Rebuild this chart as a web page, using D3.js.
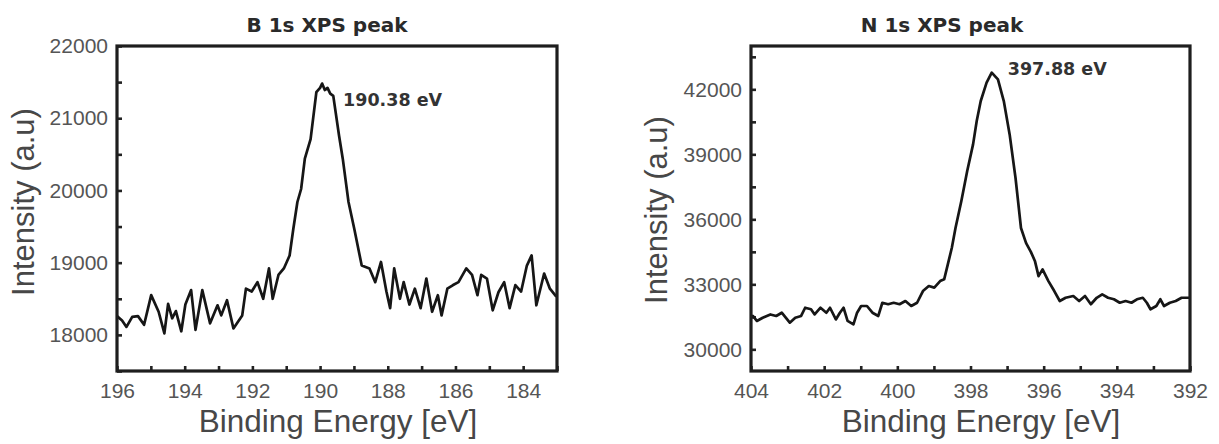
<!DOCTYPE html>
<html>
<head>
<meta charset="utf-8">
<script src="https://cdn.jsdelivr.net/npm/d3@7"></script>
<style>
  html, body { margin: 0; padding: 0; background: #fff; }
  svg { display: block; }
</style>
</head>
<body>
<svg id="chart" width="1219" height="444"></svg>
<script>
// ---- B 1s spectrum: binding energy (eV) and intensity (a.u.) ----
const bEnergy = [196.00,195.85,195.72,195.55,195.38,195.20,194.99,194.77,194.60,194.49,194.37,194.26,194.10,193.98,193.81,193.68,193.48,193.25,193.03,192.92,192.75,192.56,192.30,192.19,192.02,191.85,191.68,191.51,191.40,191.23,191.07,190.90,190.79,190.67,190.56,190.45,190.28,190.11,190.00,189.94,189.86,189.78,189.70,189.61,189.44,189.33,189.16,188.99,188.77,188.54,188.37,188.20,188.04,187.93,187.81,187.64,187.53,187.36,187.20,187.03,186.86,186.69,186.52,186.41,186.24,186.07,185.91,185.68,185.51,185.35,185.24,185.07,184.90,184.73,184.56,184.40,184.23,184.06,183.89,183.75,183.61,183.38,183.21,183.02];
const bIntensity = [18260,18200,18110,18250,18260,18140,18550,18320,18020,18430,18230,18330,18050,18420,18620,18070,18620,18160,18410,18270,18480,18090,18270,18640,18600,18730,18500,18920,18500,18830,18920,19100,19470,19840,20020,20440,20710,21360,21420,21480,21390,21420,21340,21310,20760,20440,19840,19470,18960,18920,18730,19010,18600,18370,18920,18500,18730,18420,18640,18370,18780,18320,18550,18270,18640,18690,18730,18920,18830,18550,18830,18780,18340,18590,18730,18370,18690,18600,18960,19100,18410,18850,18640,18530];

// ---- N 1s spectrum ----
const nEnergy = [404.00,403.95,403.84,403.68,403.47,403.31,403.16,402.94,402.79,402.63,402.52,402.36,402.26,402.10,401.94,401.84,401.68,401.57,401.47,401.36,401.20,401.10,400.99,400.83,400.68,400.52,400.41,400.25,400.10,399.94,399.78,399.62,399.46,399.30,399.14,398.99,398.83,398.72,398.62,398.51,398.41,398.25,398.09,397.93,397.83,397.72,397.56,397.42,397.25,397.09,396.93,396.77,396.62,396.48,396.35,396.24,396.14,396.03,395.87,395.71,395.56,395.40,395.19,395.03,394.87,394.71,394.55,394.40,394.24,394.08,393.92,393.76,393.60,393.45,393.29,393.18,393.08,392.92,392.81,392.71,392.55,392.39,392.23,392.02];
const nIntensity = [31450,31540,31310,31460,31610,31540,31690,31230,31460,31540,31920,31850,31610,31920,31690,31920,31380,31690,31920,31310,31150,31690,32000,32000,31690,31540,32150,32080,32150,32080,32230,32000,32150,32690,32920,32850,33150,33230,33920,34690,35600,36850,38230,39460,40540,41460,42310,42770,42460,41460,39920,37920,35600,34900,34500,34080,33380,33690,33150,32690,32230,32380,32460,32230,32460,32080,32380,32540,32380,32310,32150,32230,32150,32310,32380,32150,31850,32000,32310,32000,32150,32230,32380,32380];

// ---- axis ranges, tick labels and annotations ----
const bXDomain = [196, 183];
const bYDomain = [17500, 22000];
const bXTicks = [196, 194, 192, 190, 188, 186, 184];
const bXMinor = [195, 193, 191, 189, 187, 185, 183];
const bYTicks = [18000, 19000, 20000, 21000, 22000];
const bYMinor = [17500, 18500, 19500, 20500, 21500];

const nXDomain = [404, 392];
const nYDomain = [29000, 44000];
const nXTicks = [404, 402, 400, 398, 396, 394, 392];
const nXMinor = [403, 401, 399, 397, 395, 393];
const nYTicks = [30000, 33000, 36000, 39000, 42000];
const nYMinor = [31500, 34500, 37500, 40500, 43500];

const titles = ["B 1s XPS peak", "N 1s XPS peak"];
const peakLabels = ["190.38 eV", "397.88 eV"];
const xTitle = "Binding Energy [eV]";
const yTitle = "Intensity (a.u)";

const svg = d3.select("#chart");
svg.append("rect").attr("width", 1219).attr("height", 444).attr("fill", "#fff");

const TICK_FONT = "'Liberation Sans', Arial, sans-serif";
const TITLE_FONT = "'DejaVu Sans', sans-serif";

function panel(cfg) {
  const { left, right, top, bottom } = cfg.frame;
  const x = d3.scaleLinear().domain(cfg.xDomain).range([left, right]);
  const y = d3.scaleLinear().domain(cfg.yDomain).range([bottom, top]);
  const g = svg.append("g");

  // minor ticks (inward, no labels)
  g.append("g").attr("transform", `translate(0,${bottom})`)
    .call(d3.axisBottom(x).tickValues(cfg.xMinor).tickSize(-5).tickFormat(""))
    .call(a => a.select(".domain").remove());
  g.append("g").attr("transform", `translate(${left},0)`)
    .call(d3.axisLeft(y).tickValues(cfg.yMinor).tickSize(-5).tickFormat(""))
    .call(a => a.select(".domain").remove());

  // major ticks with labels
  const xa = g.append("g").attr("transform", `translate(0,${bottom})`)
    .call(d3.axisBottom(x).tickValues(cfg.xTicks).tickSize(-5).tickPadding(12).tickFormat(d3.format("d")));
  const ya = g.append("g").attr("transform", `translate(${left},0)`)
    .call(d3.axisLeft(y).tickValues(cfg.yTicks).tickSize(-5).tickPadding(9).tickFormat(d3.format("d")));
  [xa, ya].forEach(a => {
    a.select(".domain").remove();
    a.selectAll("text").attr("font-family", TICK_FONT).attr("font-size", 21).attr("fill", "#555");
  });
  g.selectAll(".tick line").attr("stroke", "#222").attr("stroke-width", 2.6);

  // spectrum line
  const pts = cfg.energy.map((e, i) => [e, cfg.intensity[i]]);
  g.append("path").datum(pts)
    .attr("fill", "none").attr("stroke", "#161616").attr("stroke-width", 2.7)
    .attr("stroke-linejoin", "round")
    .attr("d", d3.line().x(d => x(d[0])).y(d => y(d[1])));

  // frame
  g.append("rect").attr("x", left).attr("y", top)
    .attr("width", right - left).attr("height", bottom - top)
    .attr("fill", "none").attr("stroke", "#1e1e1e").attr("stroke-width", 3.2);

  // peak annotation, placed beside the maximum of the curve
  const iMax = d3.maxIndex(cfg.intensity);
  g.append("text")
    .attr("x", x(cfg.energy[iMax]) + cfg.labelDx)
    .attr("y", y(cfg.intensity[iMax]) + cfg.labelDy)
    .attr("font-family", TITLE_FONT).attr("font-weight", "bold")
    .attr("font-size", 17.5).attr("fill", "#333")
    .text(cfg.peakLabel);

  // title
  g.append("text").attr("x", cfg.titleX).attr("y", 32)
    .attr("text-anchor", "middle")
    .attr("font-family", TITLE_FONT).attr("font-weight", "bold")
    .attr("font-size", 20).attr("fill", "#2a2a2a")
    .text(cfg.title);

  // axis titles
  g.append("text").attr("x", cfg.xTitleX).attr("y", 432)
    .attr("text-anchor", "middle")
    .attr("font-family", TICK_FONT).attr("font-size", 31.5).attr("fill", "#474747")
    .text(xTitle);
  g.append("text")
    .attr("transform", `translate(${cfg.yTitleX},${cfg.yTitleY}) rotate(-90)`)
    .attr("text-anchor", "middle")
    .attr("font-family", TICK_FONT).attr("font-size", 31).attr("fill", "#474747")
    .text(yTitle);
}

panel({
  frame: { left: 117, right: 557, top: 46, bottom: 371 },
  xDomain: bXDomain, yDomain: bYDomain,
  xTicks: bXTicks, xMinor: bXMinor, yTicks: bYTicks, yMinor: bYMinor,
  energy: bEnergy, intensity: bIntensity,
  title: titles[0], titleX: 327,
  peakLabel: peakLabels[0], labelDx: 21, labelDy: 22,
  xTitleX: 338, yTitleX: 34, yTitleY: 202
});

panel({
  frame: { left: 751, right: 1190, top: 46, bottom: 371 },
  xDomain: nXDomain, yDomain: nYDomain,
  xTicks: nXTicks, xMinor: nXMinor, yTicks: nYTicks, yMinor: nYMinor,
  energy: nEnergy, intensity: nIntensity,
  title: titles[1], titleX: 942,
  peakLabel: peakLabels[1], labelDx: 16, labelDy: 2,
  xTitleX: 981, yTitleX: 667, yTitleY: 210
});
</script>
</body>
</html>
